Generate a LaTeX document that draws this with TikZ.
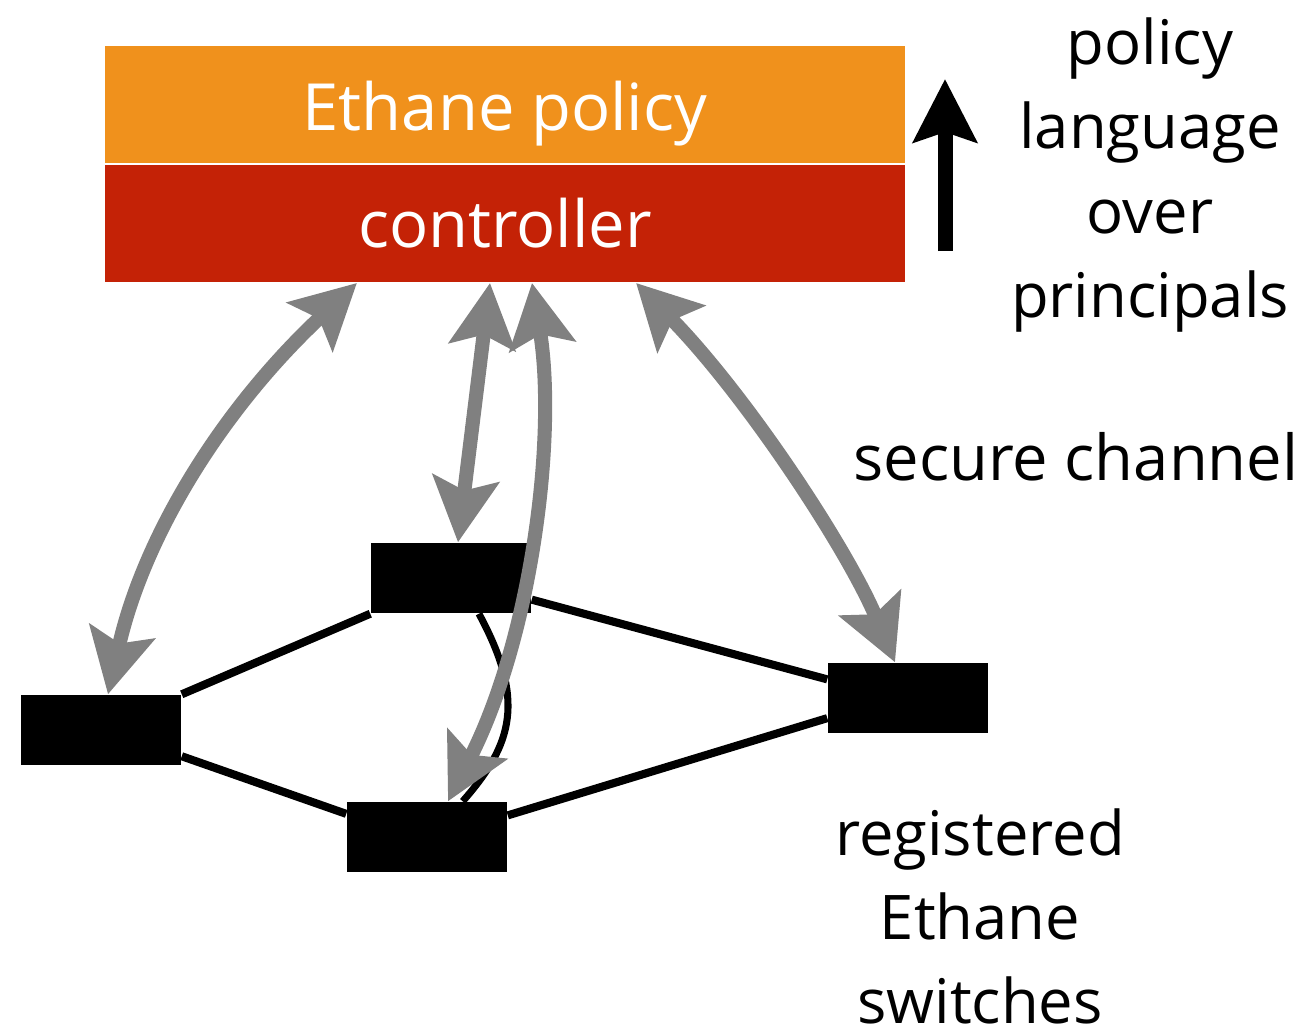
\documentclass[tikz,border=0pt]{standalone}
\usepackage{fontspec}
\setmainfont{Open Sans}
\usetikzlibrary{positioning,arrows.meta}
\definecolor{polorange}{RGB}{240,145,28}
\definecolor{ctrlred}{RGB}{196,34,6}
\definecolor{chgray}{RGB}{128,128,128}
\begin{document}
\begin{tikzpicture}[x=0.01cm,y=-0.01cm,
    layer/.style={minimum width=8cm,minimum height=1.175cm,inner sep=0pt,text=white,font=\fontsize{18.5}{23}\selectfont},
    switch/.style={fill=black,minimum width=1.6cm,minimum height=0.7cm,inner sep=0pt},
    link/.style={line width=2.3pt},
    chan/.style={draw=chgray,line width=4pt,>={Stealth[length=0.64cm,width=0.66cm,inset=0.12cm]},<->},
    lbl/.style={align=center,font=\fontsize{17.5}{23.9}\selectfont}]
       \path[use as bounding box,fill=white] (0,0) rectangle (1316,1033);
       \node[layer,fill=ctrlred] (ctrl) at (505,223.5) {controller};
       \node[layer,fill=polorange,text height=19pt,text depth=4.5pt,above=0pt of ctrl] (pol) {Ethane policy};
       \node[switch] (sw1) at (101,730) {};
       \node[switch] (sw2) at (451,578) {};
       \node[switch] (sw3) at (427,837) {};
       \node[switch] (sw4) at (908,698) {};
       \draw[link] (sw1.north east) -- (sw2.south west);
       \draw[link] (sw1.-18) -- (sw3.164);
       \draw[link] (sw2.-15) -- (sw4.167);
       \draw[link] (sw3.15) -- (sw4.-166);
       \draw[link,line width=2pt] (sw2.-52) .. controls +(47,87) and +(50,-57) .. (sw3.45);
       \draw[chan] ([xshift=0.07cm]sw1.north) .. controls +(35,-155) and +(-138,129) .. ([xshift=-1.48cm]ctrl.south);
       \draw[chan] ([xshift=0.07cm]sw2.north) -- ([xshift=-0.15cm]ctrl.south);
       \draw[chan] ([xshift=0.21cm]sw3.north) .. controls +(84,-165) and +(25,152) .. ([xshift=0.27cm]ctrl.south);
       \draw[chan] ([xshift=-0.13cm]sw4.north) .. controls +(-48,-114) and +(110,112) .. ([xshift=1.31cm]ctrl.south);
       \coordinate (upfoot) at (945,251);
       \coordinate (uptip) at (945,79);
       \draw[line width=0.15cm,-{Stealth[length=0.63cm,width=0.63cm,inset=0.1cm]}] (upfoot) -- (uptip);
       \node[lbl] (lang) at (1150,175) {policy\\language\\over\\principals};
       \node[lbl,font=\fontsize{18}{23.9}\selectfont,anchor=base] (sec) at (1076,480) {secure channel};
       \node[lbl] (reg) at (980,916) {registered\\Ethane\\switches};
\end{tikzpicture}
\end{document}
